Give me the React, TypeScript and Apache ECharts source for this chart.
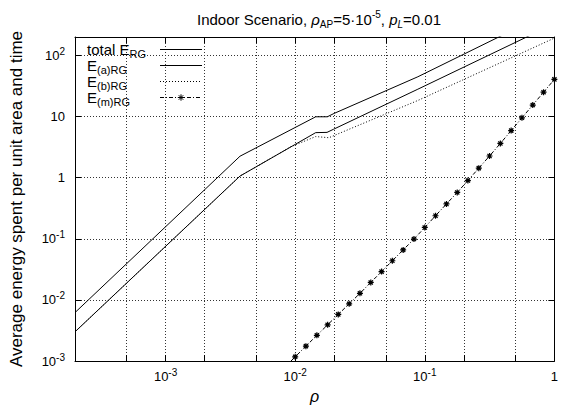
import React, { useEffect, useRef } from 'react';
import * as echarts from 'echarts';

// ---- data (rho, energy) ----
const rhoTotal = [2e-4, 3.75e-3, 0.0144, 0.0177, 0.0199, 0.0884, 1];
const eTotal = [6.2e-3, 2.24, 9.9, 9.9, 11.2, 44.7, 560];

const rhoA = [2e-4, 3.75e-3, 0.0144, 0.0176, 0.0198, 0.0884, 1];
const eA = [3.0e-3, 1.06, 5.45, 5.5, 6.2, 28, 330];

const rhoB = [2e-4, 3.75e-3, 0.00927, 0.0144, 0.0182, 0.0884, 1];
const eB = [3.0e-3, 1.06, 3.21, 4.7, 4.5, 18.3, 192];

const rhoM = [
  0.00825, 0.01, 0.0121, 0.0147, 0.0178, 0.0215, 0.0261, 0.0316, 0.0383, 0.0464, 0.0562, 0.0681, 0.0825,
  0.1, 0.121, 0.147, 0.178, 0.215, 0.261, 0.316, 0.383, 0.464, 0.562, 0.681, 0.825, 1,
];
const eM = [
  7.8e-4, 1.17e-3, 1.75e-3, 2.63e-3, 3.91e-3, 5.79e-3, 8.62e-3, 0.0128, 0.0193, 0.029, 0.0437, 0.0657, 0.0989,
  0.153, 0.238, 0.371, 0.573, 0.895, 1.43, 2.26, 3.63, 5.88, 9.53, 15.4, 25.0, 40.5,
];

const seriesNames = ['total E_RG', 'E_(a)RG', 'E_(b)RG', 'E_(m)RG'];
const legendLabels: Record<string, string> = {
  'total E_RG': '{b|total E}{sub|RG}',
  'E_(a)RG': '{b|E}{sub|(a)RG}',
  'E_(b)RG': '{b|E}{sub|(b)RG}',
  'E_(m)RG': '{b|E}{sub|(m)RG}',
};

const xRange = [2e-4, 1];
const yRange = [1e-3, 200];
const xLabelTicks = [1e-3, 1e-2, 1e-1, 1];
const xGridTicks = [5e-4, 1e-3, 2e-3, 5e-3, 1e-2, 2e-2, 5e-2, 0.1, 0.2, 0.5, 1];
const yTicks = [1e-3, 1e-2, 1e-1, 1, 10, 100];

const FONT = '"Liberation Sans", Arial, Helvetica, sans-serif';
const lg = (v: number) => Math.log10(v);
const toPts = (xs: number[], ys: number[]) => xs.map((x, i) => [lg(x), lg(ys[i])]);

const tickLabel = (v: number) => {
  const k = Math.round(v);
  if (k === 0) return '{b|1}';
  if (k === 1) return '{b|10}';
  return `{b|10}{sup|${k}}`;
};

const labelRich = {
  b: { fontSize: 13, lineHeight: 18, fontFamily: FONT, color: '#000' },
  sup: { fontSize: 10, lineHeight: 8, verticalAlign: 'top', fontFamily: FONT, color: '#000' },
};

const gridLine = { show: true, lineStyle: { color: '#333', width: 1, type: [1, 2] } };
const asterisk = 'path://M5,0L5,10M0,5L10,5M1.5,1.5L8.5,8.5M1.5,8.5L8.5,1.5';

export default function App() {
  const ref = useRef<HTMLDivElement>(null);
  useEffect(() => {
    document.body.style.margin = '0';
    if (!ref.current) return;
    const chart = echarts.init(ref.current, undefined, { renderer: 'svg' });
    const xMin = lg(xRange[0]);
    const xMax = lg(xRange[1]);
    const yMin = lg(yRange[0]);
    const yMax = lg(yRange[1]);
    const xGrid = xGridTicks.map(lg);
    const xLab = xLabelTicks.map(lg);
    const yT = yTicks.map(lg);
    const tStyle = { fontFamily: FONT, color: '#000', fontWeight: 'normal' };
    chart.setOption({
      animation: false,
      backgroundColor: '#fff',
      title: {
        text: '{t|Indoor Scenario, }{ti|ρ}{sub|AP}{t|=5·10}{sup|-5}{t|, }{ti|p}{subi|L}{t|=0.01}',
        left: 192,
        top: 4,
        textStyle: {
          fontWeight: 'normal',
          rich: {
            t: { ...tStyle, fontSize: 15, lineHeight: 20 },
            ti: { ...tStyle, fontSize: 15, lineHeight: 20, fontStyle: 'italic' },
            sub: { ...tStyle, fontSize: 10, lineHeight: 10, verticalAlign: 'bottom' },
            subi: { ...tStyle, fontSize: 10, lineHeight: 10, verticalAlign: 'bottom', fontStyle: 'italic' },
            sup: { ...tStyle, fontSize: 10, lineHeight: 10, verticalAlign: 'top' },
          },
        },
      },
      legend: {
        orient: 'vertical',
        left: 82,
        top: 37,
        align: 'right',
        itemWidth: 42,
        itemHeight: 8,
        itemGap: -1.5,
        lineStyle: { width: 1 },
        data: seriesNames.map((n, i) => ({
          name: n,
          itemStyle: i === 3 ? { color: '#000', borderColor: '#000', borderWidth: 1 } : { opacity: 0 },
        })),
        formatter: (name: string) => legendLabels[name],
        textStyle: {
          width: 68,
          align: 'left',
          rich: {
            b: { ...tStyle, fontSize: 15, lineHeight: 20, align: 'left' },
            sub: { ...tStyle, fontSize: 11, lineHeight: 8, verticalAlign: 'bottom', align: 'left' },
          },
        },
      },
      grid: { left: 73, right: 3, top: 37, bottom: 44, containLabel: false },
      xAxis: [
        {
          type: 'value',
          min: xMin,
          max: xMax,
          position: 'bottom',
          name: 'ρ',
          nameLocation: 'middle',
          nameGap: 27,
          nameTextStyle: { fontSize: 16, fontStyle: 'italic', fontFamily: FONT, color: '#000' },
          axisLine: { show: true, onZero: false, lineStyle: { color: '#000', width: 1 } },
          axisTick: { show: true, inside: true, length: 6, customValues: xGrid, lineStyle: { color: '#000' } },
          axisLabel: { show: true, margin: 6, customValues: xLab, formatter: tickLabel, rich: labelRich },
          splitLine: gridLine,
        },
        {
          type: 'value',
          min: xMin,
          max: xMax,
          position: 'top',
          axisLine: { show: true, onZero: false, lineStyle: { color: '#000', width: 1 } },
          axisTick: { show: true, inside: true, length: 6, customValues: xGrid, lineStyle: { color: '#000' } },
          axisLabel: { show: false },
          splitLine: { show: false },
        },
      ],
      yAxis: [
        {
          type: 'value',
          min: yMin,
          max: yMax,
          position: 'left',
          name: 'Average energy spent per unit area and time',
          nameLocation: 'middle',
          nameGap: 50,
          nameTextStyle: { fontSize: 17, fontFamily: FONT, color: '#000' },
          axisLine: { show: true, onZero: false, lineStyle: { color: '#000', width: 1 } },
          axisTick: { show: true, inside: true, length: 6, customValues: yT, lineStyle: { color: '#000' } },
          axisLabel: { show: true, margin: 10, customValues: yT, formatter: tickLabel, rich: labelRich },
          splitLine: gridLine,
        },
        {
          type: 'value',
          min: yMin,
          max: yMax,
          position: 'right',
          axisLine: { show: true, onZero: false, lineStyle: { color: '#000', width: 1 } },
          axisTick: { show: true, inside: true, length: 6, customValues: yT, lineStyle: { color: '#000' } },
          axisLabel: { show: false },
          splitLine: { show: false },
        },
      ],
      series: [
        {
          name: seriesNames[0],
          type: 'line',
          data: toPts(rhoTotal, eTotal),
          symbol: 'none',
          clip: true,
          z: 4,
          lineStyle: { color: '#000', width: 1, type: 'solid' },
          itemStyle: { color: '#000' },
        },
        {
          name: seriesNames[1],
          type: 'line',
          data: toPts(rhoA, eA),
          symbol: 'none',
          clip: true,
          z: 4,
          lineStyle: { color: '#000', width: 1, type: 'solid' },
          itemStyle: { color: '#000' },
        },
        {
          name: seriesNames[2],
          type: 'line',
          data: toPts(rhoB, eB),
          symbol: 'none',
          clip: true,
          z: 3,
          lineStyle: { color: '#000', width: 1, type: [1, 2] },
          itemStyle: { color: '#000' },
        },
        {
          name: seriesNames[3],
          type: 'line',
          data: toPts(rhoM, eM),
          symbol: asterisk,
          symbolSize: 6,
          showAllSymbol: true,
          clip: true,
          z: 3,
          lineStyle: { color: '#000', width: 1, type: [4, 2, 1, 2] },
          itemStyle: { color: '#000', borderColor: '#000', borderWidth: 1.2 },
        },
      ],
    });
    return () => chart.dispose();
  }, []);
  return <div ref={ref} style={{ width: 561, height: 409, position: 'absolute', left: 0, top: 0 }} />;
}
